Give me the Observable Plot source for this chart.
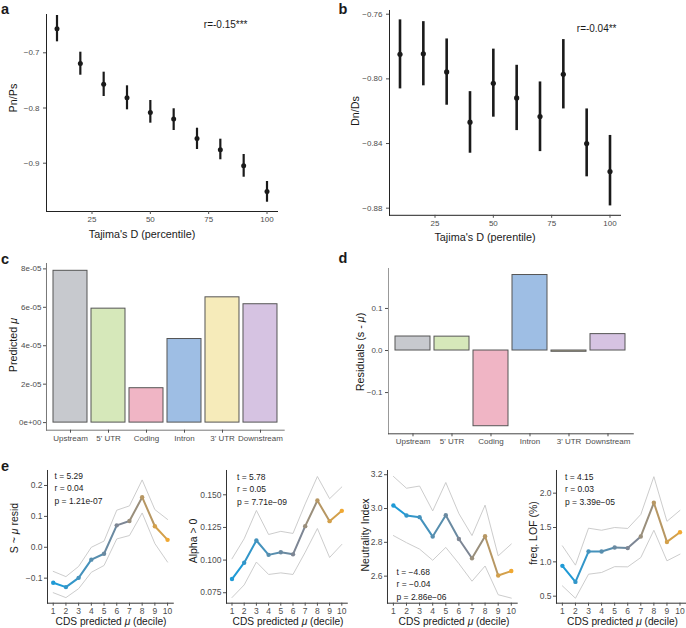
<!DOCTYPE html>
<html><head><meta charset="utf-8">
<script src="https://cdn.jsdelivr.net/npm/d3@7"></script>
<script src="https://cdn.jsdelivr.net/npm/@observablehq/plot@0.6"></script>
<style>
body{margin:0;background:#fff;}
#fig{position:relative;width:686px;height:628px;overflow:hidden;background:#fff;font-family:"Liberation Sans",Arial,Helvetica,sans-serif;}
#fig svg{position:absolute;overflow:visible;}
</style></head><body><div id="fig"></div>
<script>
// ---------- data ----------
const tajimaPct = [10, 20, 30, 40, 50, 60, 70, 80, 90, 100];
const pnps   = [-0.6565, -0.7194, -0.7570, -0.7815, -0.8080, -0.8200, -0.8553, -0.8755, -0.9047, -0.9513];
const pnpsLo = [-0.6801, -0.7406, -0.7792, -0.8033, -0.8275, -0.8408, -0.8752, -0.8938, -0.9254, -0.9707];
const pnpsHi = [-0.6324, -0.6989, -0.7351, -0.7598, -0.7864, -0.8014, -0.8366, -0.8565, -0.8842, -0.9331];

const dnds   = [-0.7848, -0.7845, -0.7957, -0.8268, -0.8027, -0.8118, -0.8233, -0.7972, -0.8400, -0.8573];
const dndsLo = [-0.8062, -0.8043, -0.8163, -0.8460, -0.8237, -0.8320, -0.8450, -0.8186, -0.8606, -0.8786];
const dndsHi = [-0.7635, -0.7646, -0.7753, -0.8079, -0.7816, -0.7916, -0.8019, -0.7757, -0.8186, -0.8350];

const regions = ["Upstream", "5' UTR", "Coding", "Intron", "3' UTR", "Downstream"];
const predictedMu = [7.9e-5, 5.93e-5, 1.79e-5, 4.35e-5, 6.52e-5, 6.16e-5];
const residuals = [0.0333, 0.0330, -0.180, 0.1795, -0.003, 0.039];

const deciles = [1, 2, 3, 4, 5, 6, 7, 8, 9, 10];
const sResid   = [-0.115, -0.129, -0.099, -0.040, -0.021, 0.071, 0.085, 0.162, 0.068, 0.024];
const sResidLo = [-0.147, -0.163, -0.134, -0.081, -0.059, 0.027, 0.038, 0.111, 0.012, -0.048];
const sResidHi = [-0.078, -0.095, -0.062, 0.000, 0.020, 0.120, 0.134, 0.218, 0.122, 0.090];

const alpha   = [0.0855, 0.0980, 0.1150, 0.1040, 0.1060, 0.1044, 0.1260, 0.1456, 0.1298, 0.1377];
const alphaLo = [0.0713, 0.0810, 0.0985, 0.0890, 0.0902, 0.0890, 0.1060, 0.1242, 0.1020, 0.1120];
const alphaHi = [0.1010, 0.1164, 0.1380, 0.1196, 0.1220, 0.1204, 0.1430, 0.1640, 0.1470, 0.1560];

const ni   = [3.018, 2.959, 2.949, 2.834, 2.960, 2.820, 2.706, 2.836, 2.604, 2.630];
const niLo = [2.840, 2.798, 2.760, 2.694, 2.770, 2.674, 2.570, 2.660, 2.490, 2.470];
const niHi = [3.190, 3.120, 3.133, 2.986, 3.154, 2.970, 2.840, 3.020, 2.720, 2.790];

const lof   = [0.942, 0.708, 1.150, 1.150, 1.208, 1.200, 1.370, 1.860, 1.290, 1.430];
const lofLo = [0.650, 0.470, 0.820, 0.845, 0.930, 0.927, 1.063, 1.460, 1.015, 1.112];
const lofHi = [1.233, 0.952, 1.490, 1.460, 1.500, 1.486, 1.690, 2.240, 1.590, 1.750];

const statsE = [
  ["t = 5.29", "r = 0.04", "p = 1.21e-07"],
  ["t = 5.78", "r = 0.05", "p = 7.71e\u221209"],
  ["t = \u22124.68", "r = \u22120.04", "p = 2.86e\u221206"],
  ["t = 4.15", "r = 0.03", "p = 3.39e\u221205"]
];

// ---------- styles ----------
const FONT = '"Liberation Sans", Arial, Helvetica, sans-serif';
const regionPalette = ["#c7c9ce", "#d6e8ba", "#f0b5c5", "#9ebee4", "#f6ebba", "#d6c3e2"];
const fig = document.getElementById("fig");

function place(svg, left, top) {
  svg.style.left = left + "px";
  svg.style.top = top + "px";
  fig.appendChild(svg);
}
function label(html, x, y, opts = {}) {
  const {size = 10.5, rotate = 0, weight = "normal", color = "#1a1a1a"} = opts;
  const el = document.createElement("div");
  el.innerHTML = html;
  Object.assign(el.style, {
    position: "absolute", left: x + "px", top: y + "px",
    transform: `translate(-50%,-50%) rotate(${rotate}deg)`,
    fontSize: size + "px", fontWeight: weight, color, lineHeight: "1",
    whiteSpace: "nowrap", fontFamily: FONT
  });
  fig.appendChild(el);
}

const ML = 50, MR = 10, MT = 10, MB = 30;
function panel(frame, opts, marks) {
  const [x0, x1, y0, y1] = frame;
  const svg = Plot.plot({
    width: x1 - x0 + ML + MR,
    height: y1 - y0 + MT + MB,
    marginLeft: ML, marginRight: MR, marginTop: MT, marginBottom: MB,
    style: {fontFamily: FONT, fontSize: "8px", background: "transparent", overflow: "visible"},
    ...opts,
    marks
  });
  place(svg, x0 - ML, y0 - MT);
}

// ---------- panel a ----------
const dataA = tajimaPct.map((x, i) => ({x, y: pnps[i], lo: pnpsLo[i], hi: pnpsHi[i]}));
panel([46, 277, 14, 211], {
  x: {domain: [5.5, 104.5]},
  y: {domain: [-0.9875, -0.6306]}
}, [
  Plot.frame({anchor: "left", stroke: "#222"}),
  Plot.frame({anchor: "bottom", stroke: "#222"}),
  Plot.axisX({ticks: [25, 50, 75, 100], tickSize: 3, tickPadding: 2, color: "#4d4d4d", label: null, fontSize: 8}),
  Plot.axisY({ticks: [-0.9, -0.8, -0.7], tickFormat: d3.format(".1f"), tickSize: 3, tickPadding: 4, color: "#4d4d4d", label: null, fontSize: 8}),
  Plot.ruleX(dataA, {x: "x", y1: "lo", y2: "hi", stroke: "#1a1a1a", strokeWidth: 2.2}),
  Plot.dot(dataA, {x: "x", y: "y", r: 2.5, fill: "#1a1a1a", stroke: null}),
  Plot.text(["r=-0.15***"], {frameAnchor: "top-right", textAnchor: "end", lineAnchor: "top", dx: -30, dy: 6, fontSize: 10, fill: "#1a1a1a"})
]);

// ---------- panel b ----------
const dataB = tajimaPct.map((x, i) => ({x, y: dnds[i], lo: dndsLo[i], hi: dndsHi[i]}));
panel([389, 620, 9.6, 214.4], {
  x: {domain: [5.5, 104.5]},
  y: {domain: [-0.8844, -0.7577]}
}, [
  Plot.frame({anchor: "left", stroke: "#222"}),
  Plot.frame({anchor: "bottom", stroke: "#222"}),
  Plot.axisX({ticks: [25, 50, 75, 100], tickSize: 3, tickPadding: 2, color: "#4d4d4d", label: null, fontSize: 8}),
  Plot.axisY({ticks: [-0.88, -0.84, -0.80, -0.76], tickFormat: d3.format(".2f"), tickSize: 3, tickPadding: 4, color: "#4d4d4d", label: null, fontSize: 8}),
  Plot.ruleX(dataB, {x: "x", y1: "lo", y2: "hi", stroke: "#1a1a1a", strokeWidth: 2.6}),
  Plot.dot(dataB, {x: "x", y: "y", r: 2.6, fill: "#1a1a1a", stroke: null}),
  Plot.text(["r=-0.04**"], {frameAnchor: "top-right", textAnchor: "end", lineAnchor: "top", dx: -4, dy: 14, fontSize: 10, fill: "#1a1a1a"})
]);

// ---------- panel c ----------
const sci = v => {
  if (v === 0) return "0e+00";
  const [m, e] = v.toExponential(0).split("e");
  return m + "e" + (e[0] === "-" ? "-" : "+") + String(Math.abs(+e)).padStart(2, "0");
};
const dataC = regions.map((r, i) => ({region: r, v: predictedMu[i]}));
panel([46, 283.7, 263.3, 430], {
  x: {type: "band", domain: regions, paddingInner: 0.1, paddingOuter: 0.15},
  y: {domain: [-3.95e-6, 8.28e-5]},
  color: {domain: regions, range: regionPalette}
}, [
  Plot.frame({anchor: "left", stroke: "#777"}),
  Plot.frame({anchor: "bottom", stroke: "#777"}),
  Plot.barY(dataC, {x: "region", y: "v", fill: "region", stroke: "#555", strokeWidth: 1}),
  Plot.axisX({tickSize: 3, tickPadding: 2, color: "#4d4d4d", label: null, fontSize: 8}),
  Plot.axisY({ticks: [0, 2e-5, 4e-5, 6e-5, 8e-5], tickFormat: sci, tickSize: 3, tickPadding: 2, color: "#4d4d4d", label: null, fontSize: 8})
]);

// ---------- panel d ----------
const dataD = regions.map((r, i) => ({region: r, v: residuals[i]}));
panel([388, 632.8, 267.7, 433], {
  x: {type: "band", domain: regions, paddingInner: 0.1, paddingOuter: 0.15},
  y: {domain: [-0.198, 0.195]},
  color: {domain: regions, range: regionPalette}
}, [
  Plot.frame({anchor: "left", stroke: "#999"}),
  Plot.frame({anchor: "bottom", stroke: "#444"}),
  Plot.barY(dataD, {x: "region", y: "v", fill: "region", stroke: "#555", strokeWidth: 1}),
  Plot.axisX({tickSize: 3, tickPadding: 2, color: "#4d4d4d", label: null, fontSize: 8}),
  Plot.axisY({ticks: [-0.1, 0, 0.1], tickFormat: d3.format(".1f"), tickSize: 3, tickPadding: 3, color: "#4d4d4d", label: null, fontSize: 8})
]);

// ---------- panel e ----------
const eColor = {type: "linear", domain: [1, 6, 10], range: ["#1f9ad6", "#7d8694", "#f0a832"]};
const eSets = [
  {m: sResid, lo: sResidLo, hi: sResidHi, frame: [46.6, 172.4, 470, 602.7], domain: [-0.181, 0.2485],
   ticks: [-0.1, 0, 0.1, 0.2], fmt: d3.format(".1f"), stats: statsE[0], anchor: "top-left", dx: 7, dy: -1},
  {m: alpha, lo: alphaLo, hi: alphaHi, frame: [225.5, 346.3, 470, 602.7], domain: [0.067, 0.1686],
   ticks: [0.075, 0.1, 0.125, 0.15], fmt: d3.format(".3f"), stats: statsE[1], anchor: "top-left", dx: 10.5, dy: 0},
  {m: ni, lo: niLo, hi: niHi, frame: [387.4, 517.1, 470, 602.7], domain: [2.44, 3.225],
   ticks: [2.6, 2.8, 3.0, 3.2], fmt: d3.format(".1f"), stats: statsE[2], anchor: "bottom-left", dx: 9, dy: -3},
  {m: lof, lo: lofLo, hi: lofHi, frame: [555.8, 685.2, 470, 602.7], domain: [0.398, 2.33],
   ticks: [0.5, 1.0, 1.5, 2.0], fmt: d3.format(".1f"), stats: statsE[3], anchor: "top-left", dx: 8.5, dy: 0}
];
for (const s of eSets) {
  const data = deciles.map((d, i) => ({d, m: s.m[i], lo: s.lo[i], hi: s.hi[i]}));
  panel(s.frame, {
    x: {domain: [0.55, 10.45]},
    y: {domain: s.domain},
    color: eColor
  }, [
    Plot.frame({anchor: "left", stroke: "#333"}),
    Plot.frame({anchor: "bottom", stroke: "#333"}),
    Plot.axisX({ticks: deciles, tickFormat: d => String(d), tickSize: 3, tickPadding: 2, color: "#4d4d4d", label: null, fontSize: 8.5}),
    Plot.axisY({ticks: s.ticks, tickFormat: s.fmt, tickSize: 3, tickPadding: 2, color: "#4d4d4d", label: null, fontSize: 8.5}),
    Plot.line(data, {x: "d", y: "hi", stroke: "#c6c6c6", strokeWidth: 0.9}),
    Plot.line(data, {x: "d", y: "lo", stroke: "#c6c6c6", strokeWidth: 0.9}),
    Plot.line(data, {x: "d", y: "m", stroke: "d", z: null, strokeWidth: 2}),
    Plot.dot(data, {x: "d", y: "m", fill: "d", r: 2.2, stroke: null}),
    Plot.text([s.stats.join("\n")], {frameAnchor: s.anchor, textAnchor: "start",
      lineAnchor: s.anchor.startsWith("top") ? "top" : "bottom", dx: s.dx, dy: s.dy,
      fontSize: 8.5, lineHeight: 1.5, fill: "#1a1a1a"})
  ]);
}

// ---------- titles & panel letters ----------
label("a", 5, 8.5, {size: 14.5, weight: "bold"});
label("b", 343, 8.5, {size: 14.5, weight: "bold"});
label("c", 5, 259, {size: 14.5, weight: "bold"});
label("d", 343, 258, {size: 14.5, weight: "bold"});
label("e", 5, 466, {size: 14.5, weight: "bold"});

label("Tajima's D (percentile)", 142, 233.5, {size: 10.8});
label("Tajima's D (perentile)", 485, 237, {size: 10.8});
label("Pn/Ps", 13, 98, {size: 10.8, rotate: -90});
label("Dn/Ds", 355, 111, {size: 10.8, rotate: -90});
label("Predicted <i>\u03bc</i>", 13, 345, {size: 10.8, rotate: -90});
label("Residuals (s - <i>\u03bc</i>)", 359.5, 351.5, {size: 10.8, rotate: -90});

label("S ~ <i>\u03bc</i> resid", 13.5, 528, {size: 10.5, rotate: -90});
label("Alpha &gt; 0", 192.5, 540.5, {size: 10.5, rotate: -90});
label("Neutrality Index", 365, 535, {size: 10.5, rotate: -90});
label("freq. LOF (%)", 533, 533, {size: 10.5, rotate: -90});
label("CDS predicted <i>\u03bc</i> (decile)", 111, 621.5, {size: 10.2});
label("CDS predicted <i>\u03bc</i> (decile)", 288, 621.5, {size: 10.2});
label("CDS predicted <i>\u03bc</i> (decile)", 454, 621.5, {size: 10.2});
label("CDS predicted <i>\u03bc</i> (decile)", 622.5, 621.5, {size: 10.2});
</script></body></html>
